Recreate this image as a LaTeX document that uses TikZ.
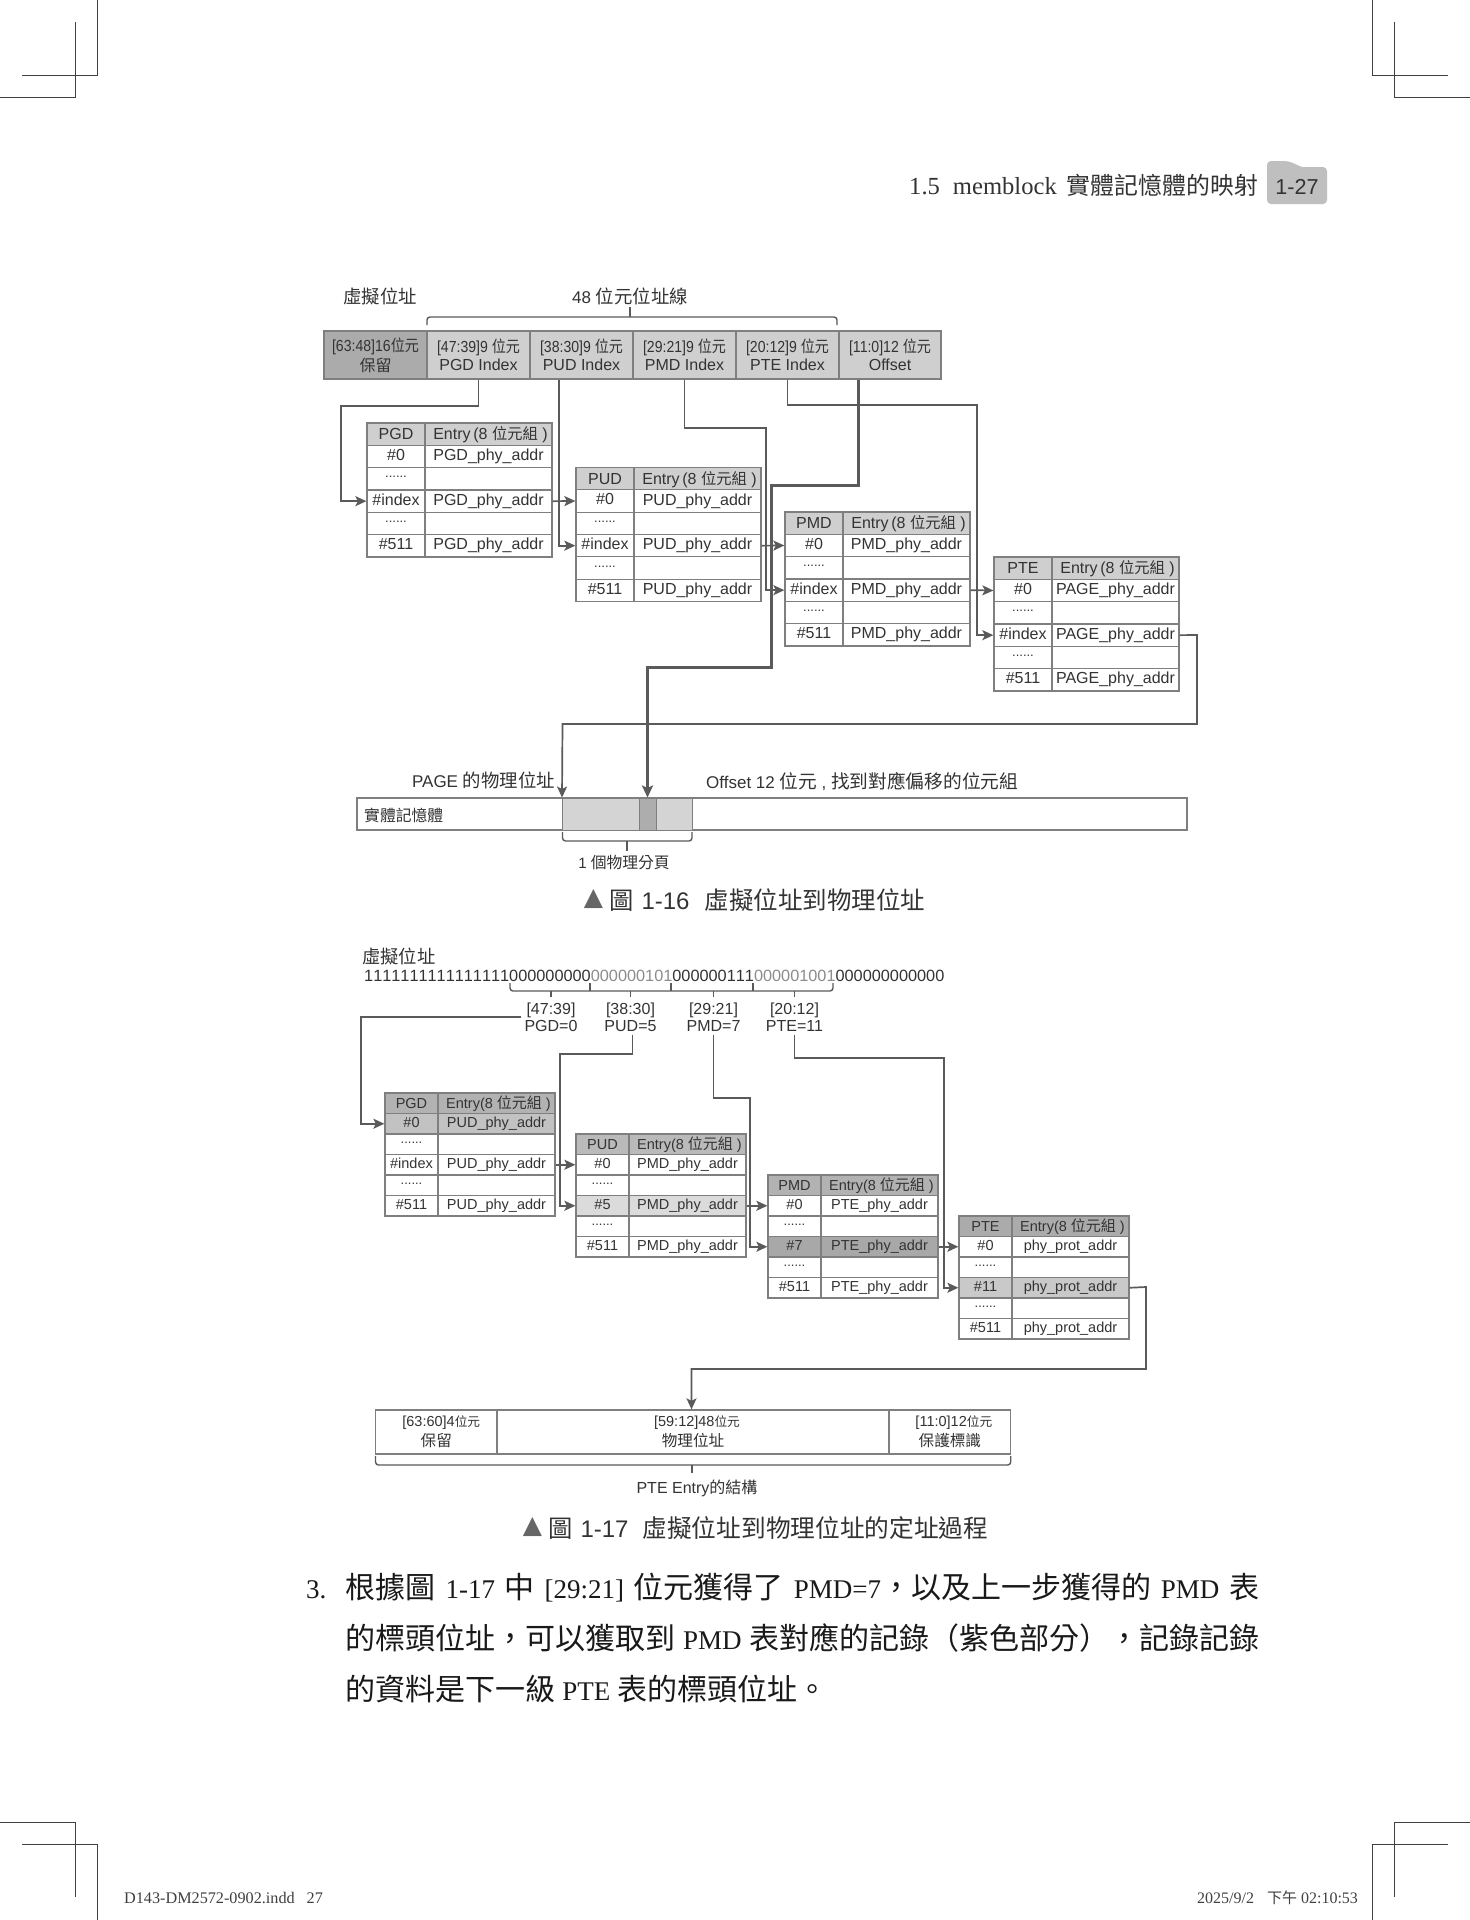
\documentclass[tikz,border=0pt]{standalone}
\usepackage{fontspec}
\setmainfont{Liberation Sans}
\newfontfamily\cjk{Noto Sans CJK TC}
\newfontfamily\serifL{Liberation Serif}
\newfontfamily\dejavu{DejaVu Sans}
\newfontfamily\bitfont[Kerning=Off]{Liberation Sans}
\usetikzlibrary{arrows.meta,calc}
\newcommand\sz[1]{\fontsize{#1}{#1}\selectfont}
\newcommand\zs[2]{{\fontsize{#1}{#1}\selectfont\cjk #2}}
\newcommand\nar[1]{\scalebox{.88}[1]{#1}}
\definecolor{txt}{HTML}{333333}
\definecolor{linegray}{HTML}{7F7F7F}
\definecolor{connc}{HTML}{5A5A5A}
\definecolor{barA}{HTML}{ABABAB}
\definecolor{barB}{HTML}{CFCFCF}
\tikzset{
  pagetext/.style={inner sep=0pt,text=txt,align=center},
  cellbox/.style={draw=linegray,line width=1.3pt,inner sep=0pt,text=txt,font=\cellfont,anchor=center},
  barcell/.style={draw=linegray,line width=1.3pt,inner sep=0pt,text=txt,align=center,anchor=center},
  conn/.style={draw=connc,line width=1.7pt,-{Stealth[length=11pt,width=10pt,inset=2.5pt]}},
  connthick/.style={draw=connc,line width=3pt,-{Stealth[length=12pt,width=11pt,inset=2.5pt]}},
  bracket/.style={draw=connc,line width=1.4pt,rounded corners=3pt},
  crop/.style={draw=black!75,line width=1pt},
}
\newcommand\cellfont{\sz{16}}
\newcommand\setgeo[5]{\def\geox{#1}\def\geoc{#2}\def\geor{#3}\def\geot{#4}\def\geoh{#5}}
\newcommand\cellpair[5]{%
  \pgfmathsetmacro\cya{\geot+#2*\geoh}%
  \pgfmathsetmacro\cym{\cya+\geoh/2}%
  \pgfmathsetmacro\cwl{\geoc-\geox}%
  \pgfmathsetmacro\cwr{\geor-\geoc}%
  \pgfmathsetmacro\cxl{(\geox+\geoc)/2}%
  \pgfmathsetmacro\cxr{(\geoc+\geor)/2}%
  \node[cellbox,fill=#3,minimum width=\cwl pt,minimum height=\geoh pt] (#1-r#2L) at (\cxl,\cym) {#4};
  \node[cellbox,fill=#3,minimum width=\cwr pt,minimum height=\geoh pt] (#1-r#2R) at (\cxr,\cym) {#5};
}
\newcommand\rowdots{\raisebox{.3em}{\sz{13}......}\vphantom{Ay}}
\newcommand\hdrtxt[1]{\smash{\raisebox{-1.5pt}{#1}}\vphantom{Ay}}
% name, header fill, header, entry, index label, address, fill of row 1, fill of row 3
\newcommand\memtable[8]{%
  \cellpair{#1}{0}{#2}{\hdrtxt{#3}}{\hspace*{4pt}\hdrtxt{#4}}
  \cellpair{#1}{1}{#7}{\vphantom{Ay}\#0}{\vphantom{Ay}#6}
  \cellpair{#1}{2}{white}{\rowdots}{}
  \cellpair{#1}{3}{#8}{\vphantom{Ay}#5}{\vphantom{Ay}#6}
  \cellpair{#1}{4}{white}{\rowdots}{}
  \cellpair{#1}{5}{white}{\vphantom{Ay}\#511}{\vphantom{Ay}#6}
}
\newcommand\entryA{Entry\,(8 \zs{15.3}{位元組} )}
\newcommand\entryB{Entry(8 \zs{15}{位元組} )}
\begin{document}
\begin{tikzpicture}[x=1pt,y=-1pt]
\useasboundingbox (0,0) rectangle (1470,1920);
\fill[white] (0,0) rectangle (1470,1920);

% crop marks
\draw[crop] (97,0) -- (97,75) -- (22,75);
\draw[crop] (75,22) -- (75,97) -- (0,97);
\draw[crop] (1372,0) -- (1372,75) -- (1448,75);
\draw[crop] (1394.5,22) -- (1394.5,97) -- (1470,97);
\draw[crop] (0,1822) -- (75,1822) -- (75,1897);
\draw[crop] (22,1844) -- (97,1844) -- (97,1920);
\draw[crop] (1470,1822) -- (1394,1822) -- (1394,1897);
\draw[crop] (1448,1844) -- (1372.6,1844) -- (1372.6,1920);

% running head
\node[pagetext,anchor=west] (headT) at (909,185) {\serifL\sz{24.6}1.5\hspace{13pt}memblock\hspace{10pt}\zs{23.9}{實體記憶體的映射}};
\fill[black!25,rounded corners=4pt] (1267,204) -- (1267,161) -- (1288,161) [sharp corners] -- (1302,167) [rounded corners=4pt] -- (1327,167) -- (1327,204) -- cycle;
\node[pagetext,anchor=center] (headN) at (1297,187) {\sz{21.6}1-27};

%%%%%%%%%%%% Figure 1-16
\node[pagetext] (t16a) at (380,296) {\zs{18.4}{虛擬位址}};
\node[pagetext] (t16b) at (630,296) {\sz{17}48 \zs{18.4}{位元位址線}};
\draw[bracket] (427,325) -- (427,317) -- (837,317) -- (837,325);
\draw[connc,line width=1.4pt] (630,307) -- (630,317);

\foreach \nm/\xa/\xb/\col/\tla/\tlb in {
  barRes/324/427/barA/{[63:48]16\zs{16}{位元}}/{\zs{16}{保留}},
  barPGD/427/530/barB/{[47:39]9 \zs{16}{位元}}/{PGD Index},
  barPUD/530/633/barB/{[38:30]9 \zs{16}{位元}}/{PUD Index},
  barPMD/633/736/barB/{[29:21]9 \zs{16}{位元}}/{PMD Index},
  barPTE/736/839/barB/{[20:12]9 \zs{16}{位元}}/{PTE Index},
  barOff/839/941/barB/{[11:0]12 \zs{16}{位元}}/{Offset}}{
  \pgfmathsetmacro\cbw{\xb-\xa}\pgfmathsetmacro\cxm{(\xa+\xb)/2}
  \node[barcell,fill=\col,minimum width=\cbw pt,minimum height=48pt,font=\sz{16}] (\nm) at (\cxm,355) {\nar{\tla}\\[2pt]\tlb};
}

% connectors of figure 1-16
\coordinate (a1) at (341,406);
\coordinate (a2) at (559,500);
\coordinate (a3) at (766,428);
\coordinate (a4) at (977,405);
\coordinate (a5) at (858,485);
\coordinate (a6) at (771,485);
\coordinate (a7) at (771,667);
\coordinate (a8) at (647.5,667);
\coordinate (p1) at (1197,635);
\coordinate (p2) at (1197,724);
\coordinate (p3) at (562.5,724);

\renewcommand\cellfont{\sz{16}}
\setgeo{367}{425}{552}{423}{22.33}
\memtable{pgdA}{barB}{PGD}{\entryA}{\#index}{PGD\_phy\_addr}{white}{white}
\setgeo{576}{634}{761}{467.5}{22.33}
\memtable{pudA}{barB}{PUD}{\entryA}{\#index}{PUD\_phy\_addr}{white}{white}
\setgeo{785}{843}{970}{512}{22.33}
\memtable{pmdA}{barB}{PMD}{\entryA}{\#index}{PMD\_phy\_addr}{white}{white}
\setgeo{994}{1052}{1179}{557}{22.33}
\memtable{pteA}{barB}{PTE}{\entryA}{\#index}{PAGE\_phy\_addr}{white}{white}

% physical memory bar
\node[draw=linegray,line width=1.3pt,fill=white,minimum width=830pt,minimum height=32pt,inner sep=0pt] (memBar) at (772,814) {};
\node[draw=linegray,line width=1pt,fill=black!17,minimum width=129.5pt,minimum height=32pt,inner sep=0pt] (memPage) at (627.25,814) {};
\node[draw=linegray,line width=1pt,fill=black!32,minimum width=17pt,minimum height=32pt,inner sep=0pt] (memSub) at (647.5,814) {};
\node[pagetext,anchor=west] (memT) at (364,815) {\zs{15.8}{實體記憶體}};

\draw[conn] (pgdA-r3R.east) -- (pudA-r1L.west);
\draw[conn] (pudA-r3R.east) -- (pmdA-r1L.west);
\draw[conn] (pmdA-r3R.east) -- (pteA-r1L.west);
\draw[conn] (barPGD.south) |- (a1) |- (pgdA-r3L.west);
\draw[conn] (a2 |- barPUD.south) |- (pudA-r3L.west);
\draw[conn] (barPMD.south) |- (a3) |- (pmdA-r3L.west);
\draw[conn] (barPTE.south) |- (a4) |- (pteA-r3L.west);
\draw[connthick] (a5 |- barOff.south) -- (a5) -- (a6) -- (a7) -- (a8) -- (memSub.north);
\draw[conn] (pteA-r3R.east) -- (p1) -- (p2) -- (p3) -- (memPage.north west);

\node[pagetext,anchor=east] (lPage) at (555,780) {\sz{17}PAGE \zs{18.4}{的物理位址}};
\node[pagetext,anchor=west] (lOff) at (706,782) {\sz{17}Offset 12 \zs{18.7}{位元} , \zs{18.7}{找到對應偏移的位元組}};
\draw[bracket] (562.5,832) -- (562.5,841) -- (692,841) -- (692,832);
\draw[connc,line width=1.4pt] (627,841) -- (627,851);
\node[pagetext] (lOne) at (624,863) {\sz{15}1 \zs{15.8}{個物理分頁}};

\node[pagetext,text=black!60] (tri16) at (593.5,899) {\dejavu\sz{25}▲};
\node[pagetext,anchor=west] (cap16) at (609,900) {\zs{24.3}{圖}\hspace{8pt}\sz{24}1-16\hspace{15pt}\zs{24.5}{虛擬位址到物理位址}};

%%%%%%%%%%%% Figure 1-17
\node[pagetext,anchor=west] (t17a) at (362,956) {\zs{18.3}{虛擬位址}};
\node[pagetext,anchor=west] (bits) at (364,976) {\bitfont\sz{16.3}1111111111111111000000000\textcolor{black!45}{000000101}000000111\textcolor{black!45}{000001001}000000000000};
\draw[bracket] (510,983) -- (510,991) -- (833,991) -- (833,983);
\foreach \xx in {590,671,753}{\draw[connc,line width=1.2pt] (\xx,983) -- (\xx,991);}
\foreach \xx in {551,630.5,713.5,794.5}{\draw[connc,line width=1.2pt] (\xx,991) -- (\xx,997);}

\tikzset{lbl17/.style={pagetext,inner xsep=3pt,inner ysep=0pt,font=\sz{16}}}
\node[lbl17] (lblPGD) at (551,1017) {[47:39]\\[1pt]PGD=0};
\node[lbl17] (lblPUD) at (630.5,1017) {[38:30]\\[1pt]PUD=5};
\node[lbl17] (lblPMD) at (713.5,1017) {[29:21]\\[1pt]PMD=7};
\node[lbl17] (lblPTE) at (794.5,1017) {[20:12]\\[1pt]PTE=11};

\coordinate (c1) at (361,1080);
\coordinate (c2) at (632.5,1054);
\coordinate (c3) at (560,1054);
\coordinate (c4) at (713.5,1098);
\coordinate (c5) at (750,1098);
\coordinate (c6) at (794.5,1058);
\coordinate (c7) at (944,1058);
\coordinate (q1) at (1146,1287);
\coordinate (q2) at (1146,1369);
\coordinate (q3) at (691.5,1369);

\renewcommand\cellfont{\sz{14.5}}
\setgeo{385}{438}{555}{1093}{20.5}
\memtable{pgdB}{black!30}{PGD}{\entryB}{\#index}{PUD\_phy\_addr}{black!24}{white}
\setgeo{576}{629}{746}{1134}{20.5}
\memtable{pudB}{black!27}{PUD}{\entryB}{\#5}{PMD\_phy\_addr}{white}{black!14}
\setgeo{768}{821}{938}{1175}{20.5}
\memtable{pmdB}{black!30}{PMD}{\entryB}{\#7}{PTE\_phy\_addr}{white}{black!34}
\setgeo{959}{1012}{1129}{1216}{20.5}
\memtable{pteB}{black!33}{PTE}{\entryB}{\#11}{phy\_prot\_addr}{white}{black!21}

\draw[conn] (pgdB-r3R.east) -- (pudB-r1L.west);
\draw[conn] (pudB-r3R.east) -- (pmdB-r1L.west);
\draw[conn] (pmdB-r3R.east) -- (pteB-r1L.west);
\draw[conn] (lblPGD.west) -| (c1) |- (pgdB-r1L.west);
\draw[conn] ([yshift=-3pt]c2 |- lblPUD.south) -- (c2) -- (c3) |- (pudB-r3L.west);
\draw[conn] ([yshift=-3pt]lblPMD.south) -- (c4) -- (c5) |- (pmdB-r3L.west);
\draw[conn] ([yshift=-3pt]lblPTE.south) -- (c6) -- (c7) |- (pteB-r3L.west);

% PTE entry bar
\tikzset{entfont/.style={font=\fontsize{15}{20}\selectfont}}
\newcommand\dn[1]{\raisebox{-1pt}{#1}}
\node[barcell,entfont,fill=white,minimum width=121.5pt,minimum height=44pt] (entRes) at (436.25,1432) {\hspace*{10pt}\dn{\sz{14.5}[63:60]4\zs{12.7}{位元}}\\\dn{\zs{15.6}{保留}}};
\node[barcell,entfont,fill=white,minimum width=392pt,minimum height=44pt] (entPhy) at (693,1432) {\hspace*{8pt}\dn{\sz{14.5}[59:12]48\zs{12.7}{位元}}\\\dn{\zs{15.6}{物理位址}}};
\node[barcell,entfont,fill=white,minimum width=121.7pt,minimum height=44pt] (entFlag) at (949.85,1432) {\hspace*{8pt}\dn{\sz{14.5}[11:0]12\zs{12.7}{位元}}\\\dn{\zs{15.6}{保護標識}}};
\draw[conn] (pteB-r3R.east) -- (q1) -- (q2) -- (q3) -- (q3 |- entPhy.north);
\draw[bracket] (375.5,1456) -- (375.5,1465) -- (1010.7,1465) -- (1010.7,1456);
\draw[connc,line width=1.4pt] (692,1465) -- (692,1473);
\node[pagetext] (lEntry) at (697,1488) {\sz{16}PTE Entry\zs{16}{的結構}};

\node[pagetext,text=black!60] (tri17) at (532.5,1527) {\dejavu\sz{25}▲};
\node[pagetext,anchor=west] (cap17) at (548,1528) {\zs{24.3}{圖}\hspace{8pt}\sz{24}1-17\hspace{14pt}\zs{24.7}{虛擬位址到物理位址的定址過程}};

%%%%%%%%%%%% paragraph
\node[pagetext,text=black!90,anchor=base west] (p0) at (306,1598) {\serifL\sz{27}3.};
\node[pagetext,text=black!90,anchor=base west] (p1t) at (345.5,1598) {\serifL\sz{27}\makebox[913.5pt][s]{\zs{30}{根據圖} 1-17 \zs{30}{中} [29:21] \zs{30}{位元獲得了} PMD=7\zs{30}{，以及上一步獲得的} PMD \zs{30}{表}}};
\node[pagetext,text=black!90,anchor=base west] (p2t) at (345.5,1649) {\serifL\sz{27}\makebox[913.5pt][s]{\zs{30}{的標頭位址，可以獲取到} PMD \zs{30}{表對應的記錄（紫色部分），記錄記錄}}};
\node[pagetext,text=black!90,anchor=base west] (p3t) at (345.5,1700) {\serifL\sz{27}\zs{30}{的資料是下一級} PTE \zs{30}{表的標頭位址。}};

%%%%%%%%%%%% footer
\node[pagetext,anchor=west,text=black!75] (footL) at (124,1898) {\serifL\sz{16.2}D143-DM2572-0902.indd\hspace{12pt}27};
\node[pagetext,anchor=west,text=black!75] (footR) at (1197,1898) {\serifL\sz{16}2025/9/2\hspace{13pt}\zs{15}{下午} 02:10:53};
\end{tikzpicture}
\end{document}
